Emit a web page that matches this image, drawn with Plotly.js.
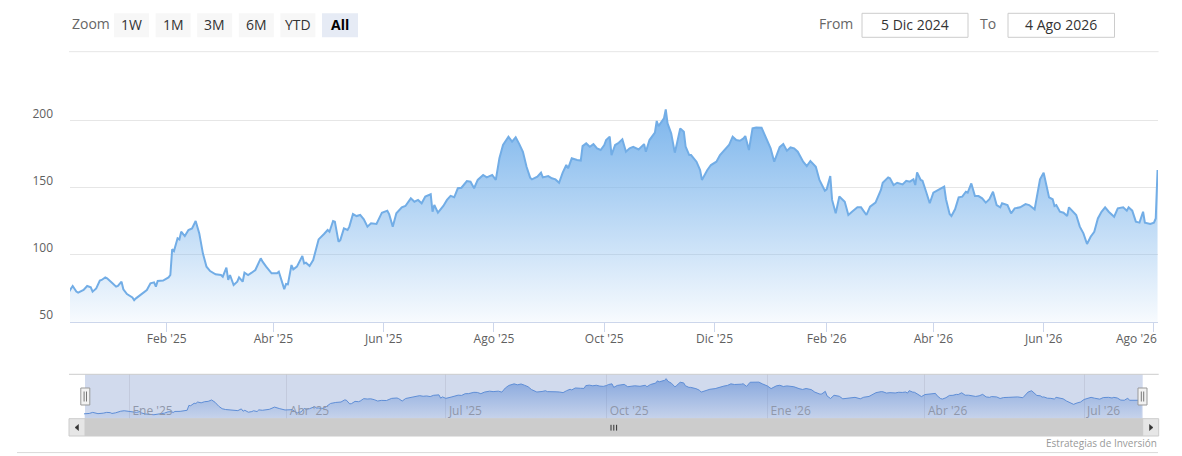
<!DOCTYPE html>
<html>
<head>
<meta charset="utf-8">
<script src="https://cdn.plot.ly/plotly-3.0.1.min.js"></script>
<style>
html,body{margin:0;padding:0;background:#fff;}
#chart{width:1182px;height:456px;}
</style>
</head>
<body>
<div id="chart"></div>
<script>
// ---------------- DATA ----------------
const dates = [
'2024-12-06','2024-12-09','2024-12-11','2024-12-13','2024-12-14','2024-12-17','2024-12-19','2024-12-21','2024-12-22','2024-12-24',
'2024-12-26','2024-12-27','2024-12-29','2024-12-30','2025-01-02','2025-01-04','2025-01-05','2025-01-07','2025-01-08','2025-01-10',
'2025-01-13','2025-01-14','2025-01-15','2025-01-18','2025-01-21','2025-01-23','2025-01-25','2025-01-26','2025-01-27','2025-01-30',
'2025-02-02','2025-02-03','2025-02-04','2025-02-05','2025-02-07','2025-02-08','2025-02-09','2025-02-11','2025-02-13','2025-02-15',
'2025-02-17','2025-02-19','2025-02-21','2025-02-23','2025-02-25','2025-02-28','2025-03-03','2025-03-04','2025-03-06','2025-03-07',
'2025-03-08','2025-03-10','2025-03-12','2025-03-13','2025-03-15','2025-03-16','2025-03-18','2025-03-20','2025-03-22','2025-03-25',
'2025-03-26','2025-03-28','2025-03-31','2025-04-03','2025-04-04','2025-04-07','2025-04-08','2025-04-09','2025-04-11','2025-04-12',
'2025-04-14','2025-04-17','2025-04-18','2025-04-19','2025-04-21','2025-04-23','2025-04-26','2025-04-29','2025-05-01','2025-05-02',
'2025-05-04','2025-05-05','2025-05-07','2025-05-08','2025-05-10','2025-05-12','2025-05-13','2025-05-15','2025-05-17','2025-05-19',
'2025-05-21','2025-05-23','2025-05-25','2025-05-28','2025-05-31','2025-06-03','2025-06-04','2025-06-06','2025-06-08','2025-06-11',
'2025-06-13','2025-06-16','2025-06-18','2025-06-20','2025-06-22','2025-06-24','2025-06-27','2025-06-28','2025-06-29','2025-07-01',
'2025-07-04','2025-07-06','2025-07-08','2025-07-10','2025-07-12','2025-07-14','2025-07-17','2025-07-19','2025-07-21','2025-07-23',
'2025-07-26','2025-07-28','2025-07-31','2025-08-02','2025-08-04','2025-08-06','2025-08-09','2025-08-11','2025-08-13','2025-08-15',
'2025-08-17','2025-08-19','2025-08-21','2025-08-22','2025-08-25','2025-08-27','2025-08-28','2025-08-31','2025-09-02','2025-09-04',
'2025-09-06','2025-09-08','2025-09-10','2025-09-11','2025-09-13','2025-09-16','2025-09-18','2025-09-19','2025-09-21','2025-09-23',
'2025-09-25','2025-09-27','2025-09-29','2025-10-01','2025-10-02','2025-10-04','2025-10-05','2025-10-07','2025-10-09','2025-10-11',
'2025-10-13','2025-10-15','2025-10-17','2025-10-20','2025-10-23','2025-10-24','2025-10-26','2025-10-29','2025-10-30','2025-10-31',
'2025-11-03','2025-11-04','2025-11-05','2025-11-07','2025-11-09','2025-11-10','2025-11-12','2025-11-14','2025-11-15','2025-11-17',
'2025-11-18','2025-11-21','2025-11-23','2025-11-24','2025-11-27','2025-11-29','2025-12-02','2025-12-04','2025-12-07','2025-12-09',
'2025-12-11','2025-12-13','2025-12-15','2025-12-17','2025-12-18','2025-12-20','2025-12-22','2025-12-24','2025-12-27','2025-12-29',
'2026-01-01','2026-01-03','2026-01-06','2026-01-08','2026-01-10','2026-01-12','2026-01-14','2026-01-16','2026-01-19','2026-01-21',
'2026-01-23','2026-01-26','2026-01-28','2026-01-31','2026-02-01','2026-02-03','2026-02-04','2026-02-06','2026-02-08','2026-02-11',
'2026-02-13','2026-02-15','2026-02-18','2026-02-20','2026-02-23','2026-02-25','2026-02-28','2026-03-03','2026-03-04','2026-03-07',
'2026-03-08','2026-03-10','2026-03-12','2026-03-15','2026-03-17','2026-03-19','2026-03-21','2026-03-22','2026-03-23','2026-03-25',
'2026-03-26','2026-03-28','2026-03-30','2026-04-01','2026-04-03','2026-04-05','2026-04-07','2026-04-08','2026-04-10','2026-04-11',
'2026-04-13','2026-04-15','2026-04-17','2026-04-19','2026-04-20','2026-04-22','2026-04-24','2026-04-26','2026-04-28','2026-04-30',
'2026-05-02','2026-05-04','2026-05-06','2026-05-08','2026-05-09','2026-05-12','2026-05-14','2026-05-16','2026-05-19','2026-05-22',
'2026-05-24','2026-05-27','2026-05-28','2026-05-30','2026-06-01','2026-06-02','2026-06-04','2026-06-06','2026-06-07','2026-06-08',
'2026-06-10','2026-06-12','2026-06-14','2026-06-15','2026-06-17','2026-06-19','2026-06-21','2026-06-23','2026-06-25','2026-06-27',
'2026-06-29','2026-07-01','2026-07-03','2026-07-05','2026-07-07','2026-07-10','2026-07-12','2026-07-15','2026-07-17','2026-07-18',
'2026-07-20','2026-07-22','2026-07-24','2026-07-26','2026-07-27','2026-07-30','2026-08-01','2026-08-02','2026-08-03'
];
const prices = [
71.0,72.4,76.6,72.4,71.6,73.6,76.6,75.6,72.4,74.8,
80.6,81.1,83.0,82.3,78.6,76.1,76.6,79.8,74.1,70.6,
68.1,66.1,67.4,70.6,73.6,78.6,79.3,76.1,80.3,80.6,
83.0,84.8,103.9,102.6,112.1,111.3,117.0,113.8,118.3,119.5,
125.0,115.8,100.9,91.0,87.7,85.3,84.8,83.5,90.2,81.1,
84.8,77.3,79.8,83.0,79.8,86.5,84.8,86.5,88.5,97.2,
94.7,91.0,86.0,86.0,87.2,74.3,78.1,77.8,92.2,89.0,
91.0,98.9,93.4,93.9,91.5,95.9,111.3,115.3,118.3,117.0,
125.0,124.5,109.6,110.8,119.5,118.3,120.8,130.2,128.7,129.5,
126.2,120.8,123.3,122.8,131.2,132.7,130.2,120.8,130.7,135.2,
136.2,141.9,139.4,140.7,138.2,143.2,144.9,132.0,136.9,131.2,
136.2,140.7,143.7,142.7,149.4,149.8,154.8,154.3,149.4,155.6,
159.3,157.5,159.3,155.6,171.7,181.6,187.8,184.1,187.3,182.3,
176.6,165.4,157.3,156.0,158.0,161.0,157.5,158.5,156.8,156.0,
153.5,161.0,166.7,164.2,171.7,170.5,170.0,180.8,182.8,180.3,
182.3,179.1,177.9,181.6,185.3,187.8,174.1,181.6,183.3,185.8,
176.6,179.1,180.3,178.3,182.3,176.6,185.3,190.8,199.5,195.7,
201.4,208.1,197.7,190.3,175.9,181.6,194.0,191.5,180.3,174.1,
174.1,169.2,163.0,155.6,163.0,166.7,169.2,174.1,179.1,181.6,
187.8,185.3,184.8,186.5,188.3,177.9,194.0,194.7,194.5,187.8,
179.1,169.2,180.0,182.3,177.4,179.8,179.1,176.6,169.2,165.9,
169.7,165.4,155.6,147.6,148.6,158.5,140.7,130.7,143.2,139.4,
129.5,131.9,135.2,135.2,129.5,135.7,138.7,148.1,153.5,157.5,
156.8,151.8,153.5,152.3,155.0,154.3,156.0,151.8,161.2,155.6,
155.0,146.8,138.2,146.1,147.6,149.3,150.6,141.2,130.2,128.7,
133.7,142.6,143.1,146.8,146.1,153.0,143.6,143.6,141.9,138.7,
141.2,146.8,136.9,135.2,138.2,136.9,130.7,134.4,135.2,137.6,
136.9,133.7,141.9,156.0,161.0,154.3,142.6,141.2,136.2,136.9,
131.9,131.2,128.7,135.2,132.7,129.5,120.8,115.8,107.9,113.3,
117.0,126.9,131.9,135.2,131.9,128.2,134.4,135.2,132.7,135.2,
132.7,124.5,123.8,131.9,123.8,122.8,123.8,126.9,163.0
];
const yTickVals = [50, 100, 150, 200, 250];
const yTickText = ['50', '100', '150', '200', ''];
const xTickVals = ['2025-02-01','2025-04-01','2025-06-01','2025-08-01','2025-10-01','2025-12-01','2026-02-01','2026-04-01','2026-06-01','2026-08-01'];
const xTickText = ["Feb '25","Abr '25","Jun '25","Ago '25","Oct '25","Dic '25","Feb '26","Abr '26","Jun '26","Ago '26"];
const navTickVals = ['2025-01-01','2025-04-01','2025-07-01','2025-10-01','2026-01-01','2026-04-01','2026-07-01'];
const navTickText = ["Ene '25","Abr '25","Jul '25","Oct '25","Ene '26","Abr '26","Jul '26"];
const zoomButtons = ['1W', '1M', '3M', '6M', 'YTD', 'All'];
const selectedButton = 'All';
const fromDate = '5 Dic 2024';
const toDate = '4 Ago 2026';
const creditText = 'Estrategias de Inversión';

// ---------------- LAYOUT HELPERS (pixel -> paper) ----------------
const W = 1182, H = 456, ML = 70, MR = 24;
const PW = W - ML - MR;
const X = p => (p - ML) / PW;
const Y = p => 1 - p / H;
const FONT = '"Open Sans", "Noto Sans", sans-serif';

const shapes = [];
const annotations = [];

function rect(x0, y0, x1, y1, fill, line, lw, layer) {
  shapes.push({type: 'rect', xref: 'paper', yref: 'paper',
    x0: X(x0), x1: X(x1), y0: Y(y1), y1: Y(y0),
    fillcolor: fill, line: {color: line || fill, width: lw === undefined ? 1 : lw},
    layer: layer || 'above'});
}
function hline(x0, x1, y, color, w) {
  shapes.push({type: 'line', xref: 'paper', yref: 'paper',
    x0: X(x0), x1: X(x1), y0: Y(y), y1: Y(y), line: {color: color, width: w || 1}, layer: 'above'});
}
function vline(x, y0, y1, color, w) {
  shapes.push({type: 'line', xref: 'paper', yref: 'paper',
    x0: X(x), x1: X(x), y0: Y(y0), y1: Y(y1), line: {color: color, width: w || 1}, layer: 'above'});
}
function tri(pts, color) {
  const d = pts.map((p, i) => (i ? 'L' : 'M') + X(p[0]) + ',' + Y(p[1])).join(' ') + ' Z';
  shapes.push({type: 'path', xref: 'paper', yref: 'paper', path: d,
    fillcolor: color, line: {color: color, width: 0.5}, layer: 'above'});
}
function text(t, x, y, opts) {
  opts = opts || {};
  annotations.push({xref: 'paper', yref: 'paper', x: X(x), y: Y(y), text: t, showarrow: false,
    xanchor: opts.xanchor || 'center', yanchor: 'middle',
    font: {family: FONT, size: opts.size || 13, color: opts.color || '#333333'}});
}

// ---- range selector ----
text('Zoom', 70, 24, {xanchor: 'left', size: 14, color: '#666666'});
const btnLeft = 114, btnStep = 41.6, btnW = 35;
zoomButtons.forEach((b, i) => {
  const x0 = btnLeft + btnStep * i;
  const sel = b === selectedButton;
  rect(x0, 13.3, x0 + btnW + (sel ? 1 : 0), 37.3, sel ? '#e6ebf5' : '#f7f7f7', sel ? '#e6ebf5' : '#f7f7f7', 0);
  text(sel ? '<b>' + b + '</b>' : b, x0 + btnW / 2 + (sel ? 0.5 : 0), 24.5, {size: 14, color: sel ? '#000000' : '#333333'});
});
text('From', 855, 24, {xanchor: 'right', size: 14, color: '#666666'});
rect(862, 13.3, 968, 37.3, '#ffffff', '#cccccc', 1);
text(fromDate, 915, 24.5, {size: 14, color: '#333333'});
text('To', 998, 24, {xanchor: 'right', size: 14, color: '#666666'});
rect(1008, 13.3, 1114.5, 37.3, '#ffffff', '#cccccc', 1);
text(toDate, 1061, 24.5, {size: 14, color: '#333333'});
// separator under the range selector
hline(69, 1158.6, 51.7, '#e6e6e6', 1);

// ---- navigator decorations ----
rect(85, 374.3, 1142.7, 418.7, 'rgba(102,133,194,0.3)', 'rgba(0,0,0,0)', 0, 'below');
hline(69, 1158.7, 374.3, '#cccccc', 1);
// scrollbar
rect(85, 418.7, 1142.7, 436, '#cccccc', '#cccccc', 1);
rect(69, 418.7, 85, 436, '#e6e6e6', '#cccccc', 1);
rect(1142.7, 418.7, 1158.7, 436, '#e6e6e6', '#cccccc', 1);
tri([[78.5, 424.5], [75, 427.5], [78.5, 430.5]], '#333333');
tri([[1149.5, 424.5], [1153, 427.5], [1149.5, 430.5]], '#333333');
[611, 613.8, 616.6].forEach(x => vline(x, 424.8, 430.6, '#333333', 1));
// handles
[[80.8, 89.8], [1138, 1147]].forEach(h => {
  rect(h[0], 388, h[1], 405, '#f2f2f2', '#999999', 1);
  vline(h[0] + 3.3, 391.5, 401.5, '#777777', 1);
  vline(h[1] - 3.3, 391.5, 401.5, '#777777', 1);
});
// bottom separator + credits
hline(17, 1158, 452.6, '#d9d9d9', 1);
text(creditText, 1158.7, 442.7, {xanchor: 'right', size: 10, color: '#999999'});

// last main x label, kept inside the chart as Highcharts does
text(xTickText[xTickText.length - 1], 1158.5, 338.3, {xanchor: 'right', size: 12, color: '#606060'});
const xTickTextShown = xTickText.map((t, i) => i === xTickText.length - 1 ? '' : t);

// ---------------- TRACES ----------------
const mainTrace = {
  type: 'scatter', mode: 'lines', x: dates, y: prices, xaxis: 'x', yaxis: 'y',
  line: {color: '#72ade6', width: 2},
  fill: 'tozeroy',
  fillgradient: {type: 'vertical', start: 50, stop: 208,
    colorscale: [[0, 'rgba(124,181,236,0.06)'], [1, 'rgba(124,181,236,1)']]},
  hoverinfo: 'skip'
};
const navTrace = {
  type: 'scatter', mode: 'lines', x: dates, y: prices, xaxis: 'x2', yaxis: 'y2',
  line: {color: '#5f8ed6', width: 1},
  fill: 'tozeroy',
  fillgradient: {type: 'vertical', start: 52, stop: 208,
    colorscale: [[0, 'rgba(80,130,210,0.08)'], [1, 'rgba(80,130,210,0.58)']]},
  hoverinfo: 'skip'
};

const layout = {
  width: W, height: H,
  margin: {l: ML, r: MR, t: 0, b: 0, pad: 0},
  paper_bgcolor: '#ffffff', plot_bgcolor: 'rgba(0,0,0,0)',
  showlegend: false,
  font: {family: FONT, size: 12, color: '#606060'},
  xaxis: {
    domain: [0, 1], anchor: 'y', type: 'date',
    range: ['2024-12-09 12:00', '2026-08-03 06:00'],
    tickvals: xTickVals, ticktext: xTickTextShown,
    ticks: 'outside', ticklen: 9, tickcolor: '#ccd6eb', tickwidth: 1,
    showline: true, linecolor: '#ccd6eb', linewidth: 1,
    showgrid: false, zeroline: false,
    ticklabelstandoff: -3,
    tickfont: {family: FONT, size: 12, color: '#606060'}
  },
  yaxis: {
    domain: [Y(321.7), Y(53.2)], anchor: 'x',
    range: [50, 250],
    tickvals: yTickVals, ticktext: yTickText,
    showgrid: true, gridcolor: '#e6e6e6', gridwidth: 1,
    zeroline: false, showline: false, ticks: '',
    ticklabelstandoff: 16, ticklabelshift: -7,
    tickfont: {family: FONT, size: 12, color: '#606060'}
  },
  xaxis2: {
    domain: [0, 1], anchor: 'y2', type: 'date',
    range: ['2024-11-28 00:00', '2026-08-12 07:00'],
    tickvals: navTickVals, ticktext: navTickText,
    ticklabelposition: 'inside right', ticks: '',
    ticklabelstandoff: -5, ticklabelshift: 3,
    showgrid: true, gridcolor: '#c3cadd', gridwidth: 1,
    showline: false, zeroline: false,
    tickfont: {family: FONT, size: 12, color: '#8f97aa'}
  },
  yaxis2: {
    domain: [Y(418.7), Y(374.3)], anchor: 'x2',
    range: [52, 225],
    showgrid: false, showticklabels: false, zeroline: false, showline: false, ticks: ''
  },
  shapes: shapes,
  annotations: annotations
};

Plotly.newPlot('chart', [navTrace, mainTrace], layout, {staticPlot: true, displayModeBar: false});
</script>
</body>
</html>
